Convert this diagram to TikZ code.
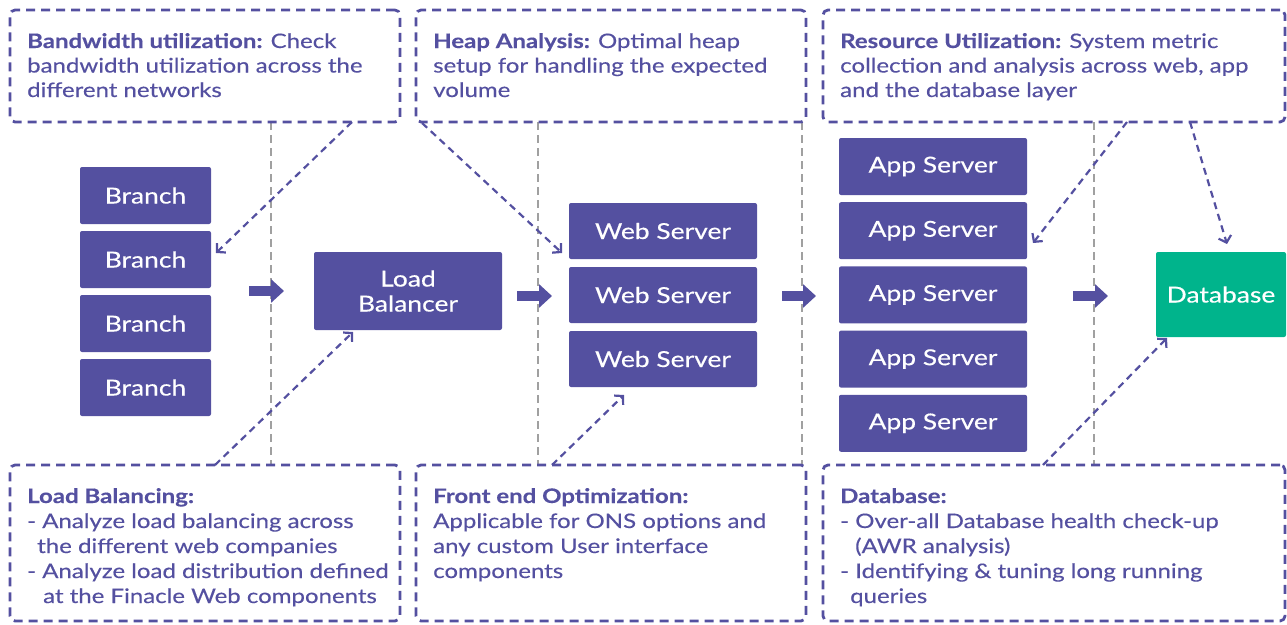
\documentclass[tikz,border=0pt]{standalone}
\usepackage{fontspec}
\setmainfont[FakeStretch=1.2,FakeBold=0.35]{Lato}
\usetikzlibrary{arrows.meta,positioning}
\definecolor{infpurple}{HTML}{5450A0}
\definecolor{infgreen}{HTML}{00B48C}
\definecolor{infgray}{HTML}{A0A0A0}
\begin{document}
\begin{tikzpicture}[x=1pt,y=-1pt, line join=round,
    tier/.style={fill=infpurple,text=white,rounded corners=2pt,inner sep=0pt,minimum width=188pt,minimum height=57pt,font=\fontsize{22}{25}\selectfont,align=center},
    dbnode/.style={tier,fill=infgreen,minimum width=130pt,minimum height=85pt},
    infobox/.style={draw=infpurple,line width=2.8pt,dash pattern=on 9pt off 6pt,rounded corners=5pt,minimum height=112pt,inner sep=0pt},
    infotext/.style={text=infpurple,align=left,inner sep=0pt,anchor=base west,font=\fontsize{20}{24.5}\selectfont},
    lowtext/.style={infotext,font=\fontsize{20}{25}\selectfont},
    callout/.style={infpurple,line width=2.2pt,dash pattern=on 7pt off 5pt,-{Straight Barb[length=6pt,width=13pt]}},
    fatarrow/.style={infpurple,line width=10pt,-{Triangle[length=13pt,width=23pt]}},
    divider/.style={infgray,line width=2.6pt,dash pattern=on 8pt off 5pt}]
\useasboundingbox (0,0) rectangle (1287,624);
% dividers between the tiers
\foreach \x in {271,538,802,1094} \draw[divider] (\x,122) -- (\x,465);
% tiers
\foreach \i in {1,...,4} \node[tier,minimum width=131pt] (br\i) at (145.5,131.5+64*\i) {Branch};
\node[tier,minimum height=78pt] (lb) at (408,291) {Load\\Balancer};
\foreach \i in {1,...,3} \node[tier,minimum height=56pt] (ws\i) at (663,167+64*\i) {Web Server};
\foreach \i in {1,...,5} \node[tier] (as\i) at (933,102.3+64.2*\i) {App Server};
\node[dbnode] (db) at (1221,294.5) {Database};
% top notes (anchored at the baseline of their last line)
\node[infobox,minimum width=390pt] (tbw) at (205,66) {};
\node[infotext] (tbwtext) at (27,97) {\textbf{Bandwidth utilization:} Check\\bandwidth utilization across the\\different networks};
\node[infobox,minimum width=390pt] (thp) at (611,66) {};
\node[infotext] (thptext) at (433,97) {\textbf{Heap Analysis:} Optimal heap\\setup for handling the expected\\volume};
\node[infobox,minimum width=462pt] (tru) at (1054,66) {};
\node[infotext] (trutext) at (840,97) {\textbf{Resource Utilization:} System metric\\collection and analysis across web, app\\and the database layer};
% bottom notes
\node[infobox,minimum width=390pt,minimum height=156pt] (blb) at (205,543) {};
\node[lowtext] (blbtext) at (27,603) {\textbf{Load Balancing:}\\- Analyze load balancing across\\\hspace*{10pt}the different web companies\\- Analyze load distribution defined\\\hspace*{16pt}at the Finacle Web components};
\node[infobox,minimum width=390pt,minimum height=156pt] (bfe) at (611,543) {};
\node[lowtext] (bfetext) at (433,578) {\textbf{Front end Optimization:}\\Applicable for ONS options and\\any custom User interface\\components};
\node[infobox,minimum width=462pt,minimum height=156pt] (bdb) at (1054,543) {};
\node[lowtext] (bdbtext) at (840,603) {\textbf{Database:}\\- Over-all Database health check-up\\\hspace*{15pt}(AWR analysis)\\- Identifying \& tuning long running\\\hspace*{10pt}queries};
% flow arrows
\coordinate (f1a) at (249,291); \coordinate (f1b) at (284,291);
\coordinate (f2a) at (517,296); \coordinate (f2b) at (552,296);
\coordinate (f3a) at (782,296); \coordinate (f3b) at (816,296);
\coordinate (f4a) at (1073,296); \coordinate (f4b) at (1108,296);
\draw[fatarrow] (f1a) -- (f1b);
\draw[fatarrow] (f2a) -- (f2b);
\draw[fatarrow] (f3a) -- (f3b);
\draw[fatarrow] (f4a) -- (f4b);
% callouts
\coordinate (c1a) at (352,122); \coordinate (c1b) at (216,253);
\coordinate (c2a) at (422,123); \coordinate (c2b) at (562,253);
\coordinate (c3a) at (1127,122); \coordinate (c3b) at (1033,243);
\coordinate (c4a) at (1190,122); \coordinate (c4b) at (1227,244);
\coordinate (c5a) at (215,465); \coordinate (c5b) at (353,332);
\coordinate (c6a) at (552,465); \coordinate (c6b) at (624,395);
\coordinate (c7a) at (1043,465); \coordinate (c7b) at (1167,338);
\draw[callout] (c1a) -- (c1b);
\draw[callout] (c2a) -- (c2b);
\draw[callout] (c3a) -- (c3b);
\draw[callout] (c4a) -- (c4b);
\draw[callout] (c5a) -- (c5b);
\draw[callout] (c6a) -- (c6b);
\draw[callout] (c7a) -- (c7b);
\end{tikzpicture}
\end{document}
